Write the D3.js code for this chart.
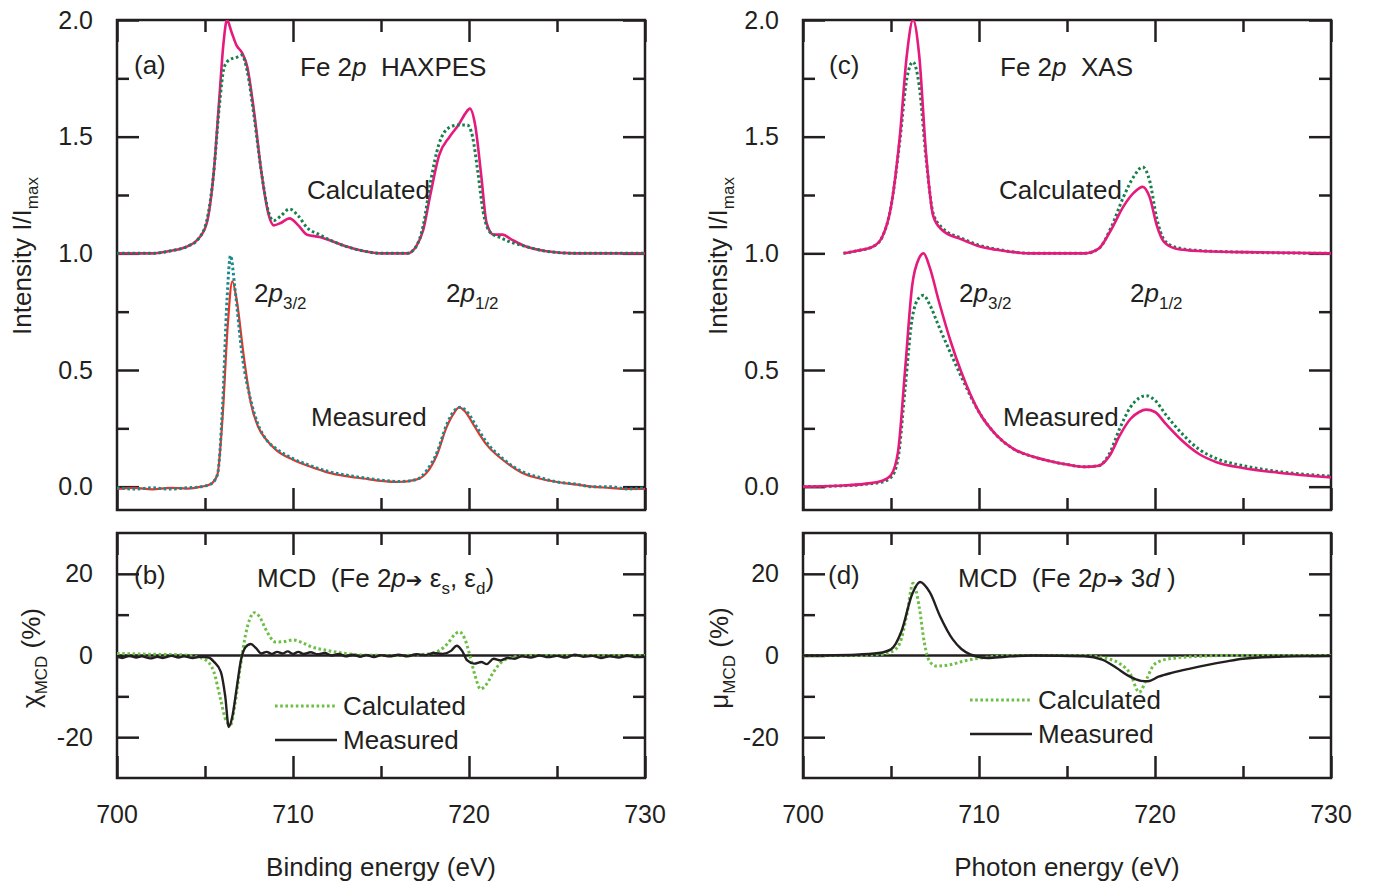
<!DOCTYPE html>
<html>
<head>
<meta charset="utf-8">
<script src="https://cdn.jsdelivr.net/npm/d3@7"></script>
<style>
  body { margin: 0; background: #fff; }
  text { font-family: "Liberation Sans", Arial, sans-serif; fill: #231f20; white-space: pre; }
</style>
</head>
<body>
<div class="canvas"></div>
<script>
// ---- data: [energy (eV), value] ----
const xTicks = [700, 710, 720, 730];
const xMinor = [705, 715, 725];
const yTicksTop = [0, 0.5, 1.0, 1.5, 2.0];
const yMinorTop = [0.25, 0.75, 1.25, 1.75];
const yTicksMcd = [-20, 0, 20];
const yMinorMcd = [-10, 10];

// (a) HAXPES, calculated (offset +1)
const haxCalcPink = [[700,1.0],[702,1.0],[703,1.01],[704,1.03],[704.6,1.06],[705.1,1.13],[705.5,1.35],[705.8,1.65],[706.05,1.9],[706.25,2.0],[706.5,1.95],[706.8,1.89],[707.1,1.86],[707.4,1.8],[707.8,1.6],[708.2,1.35],[708.6,1.17],[708.9,1.12],[709.3,1.13],[709.8,1.15],[710.3,1.12],[710.8,1.08],[711.5,1.07],[712.3,1.05],[713,1.03],[714,1.01],[715,1.0],[716.5,1.0],[717,1.03],[717.4,1.1],[717.8,1.25],[718.3,1.42],[718.9,1.5],[719.4,1.55],[719.8,1.6],[720.05,1.62],[720.35,1.55],[720.7,1.33],[721.0,1.13],[721.4,1.08],[721.9,1.08],[722.4,1.06],[723.2,1.03],[724.3,1.01],[726,1.0],[730,1.0]];
const haxCalcGreen = [[700,1.0],[702,1.0],[703,1.01],[704,1.03],[704.6,1.06],[705.1,1.14],[705.5,1.35],[705.8,1.62],[706.1,1.8],[706.4,1.83],[706.8,1.84],[707.1,1.85],[707.4,1.78],[707.8,1.58],[708.2,1.35],[708.6,1.18],[708.9,1.14],[709.3,1.16],[709.8,1.19],[710.3,1.16],[710.8,1.11],[711.5,1.08],[712.3,1.05],[713,1.03],[714,1.01],[715,1.0],[716.5,1.0],[717,1.03],[717.4,1.12],[717.8,1.3],[718.3,1.47],[718.9,1.54],[719.4,1.55],[719.9,1.55],[720.2,1.5],[720.5,1.35],[720.8,1.18],[721.2,1.09],[721.7,1.07],[722.3,1.05],[723.2,1.03],[724.3,1.01],[726,1.0],[730,1.0]];
// (a) HAXPES, measured
const haxMeasRed = [[700,-0.01],[701,-0.005],[702,-0.012],[703,-0.005],[704,-0.008],[704.8,0.0],[705.3,0.01],[705.7,0.05],[706.0,0.3],[706.3,0.7],[706.55,0.88],[706.8,0.8],[707.2,0.56],[707.6,0.36],[708,0.26],[708.5,0.2],[709,0.16],[710,0.115],[711,0.085],[712,0.06],[713,0.045],[714,0.035],[715,0.025],[716,0.02],[717,0.03],[717.6,0.06],[718.2,0.14],[718.7,0.25],[719.1,0.31],[719.45,0.34],[719.8,0.32],[720.3,0.26],[721,0.18],[722,0.11],[723,0.06],[724,0.035],[725,0.02],[726,0.01],[727,0.0],[728,-0.005],[729,-0.01],[730,-0.01]];
const haxMeasTeal = [[700,-0.005],[701,-0.01],[702,-0.005],[703,-0.01],[704,-0.005],[704.8,0.0],[705.3,0.01],[705.7,0.05],[706.0,0.35],[706.25,0.8],[706.45,0.99],[706.7,0.85],[707.1,0.57],[707.6,0.37],[708,0.27],[708.5,0.2],[709,0.165],[710,0.12],[711,0.09],[712,0.065],[713,0.05],[714,0.038],[715,0.028],[716,0.022],[717,0.03],[717.6,0.07],[718.2,0.15],[718.7,0.26],[719.1,0.32],[719.5,0.34],[719.9,0.32],[720.4,0.26],[721,0.19],[722,0.115],[723,0.065],[724,0.04],[725,0.02],[726,0.012],[727,0.0],[728,0.0],[729,-0.01],[730,-0.005]];

// (b) chi MCD
const chiCalc = [[700,0.5],[702,0.3],[703.5,0.2],[704.5,-0.3],[705,-1],[705.5,-4],[705.9,-11],[706.2,-16],[706.45,-17],[706.7,-12],[707,-3],[707.3,5],[707.55,9],[707.8,10.5],[708.1,9.5],[708.5,6],[709,3.3],[709.5,3.4],[710,3.8],[710.5,3.2],[711,2.2],[712,1.2],[713,0.5],[714,0.1],[716,0],[717.5,0.3],[718.3,1.2],[718.8,3],[719.2,5.2],[719.45,5.8],[719.75,4.2],[720.05,0],[720.35,-5],[720.65,-8.2],[721,-7],[721.4,-4],[721.8,-1.8],[722.4,-0.5],[723.5,0],[730,0]];
const chiMeas = [[700,-0.3],[700.3,-0.6],[700.7,-0.1],[701.1,-0.5],[701.4,-0.2],[701.9,-0.7],[702.3,-0.3],[702.6,-0.6],[703.1,-0.1],[703.5,-0.5],[703.8,-0.2],[704.3,-0.6],[704.7,-0.3],[705.2,-0.5],[705.5,-1.5],[705.9,-4],[706.15,-10],[706.35,-17.5],[706.55,-15],[706.8,-8],[707.05,-1],[707.3,2],[707.6,2.8],[707.9,1.8],[708.2,0.5],[708.5,0.9],[708.8,0.4],[709.1,0.9],[709.4,0.5],[709.7,1.0],[710,0.4],[710.3,0.9],[710.6,0.4],[711,0.8],[711.4,0.3],[711.8,0.6],[712.2,0],[712.6,0.4],[713,-0.2],[713.4,0.2],[713.8,-0.3],[714.2,0.1],[714.6,-0.4],[715,0.1],[715.5,-0.2],[716,0.2],[716.5,-0.2],[717,0.3],[717.5,0.1],[718,0.6],[718.5,0.4],[719,1.2],[719.3,2.4],[719.6,1.2],[719.9,-1.2],[720.3,-2],[720.7,-1.6],[721,-2.1],[721.4,-0.8],[721.8,-1.2],[722.2,-0.6],[722.6,-0.8],[723,-0.2],[723.5,-0.5],[724,0],[724.5,-0.4],[725,-0.1],[725.5,-0.5],[726,0.2],[726.5,-0.3],[727,-0.1],[727.5,-0.6],[728,-0.2],[728.5,-0.5],[729,0],[729.5,-0.4],[730,-0.3]];

// (c) XAS, calculated (offset +1)
const xasCalcPink = [[702.3,1.0],[703,1.01],[704,1.03],[704.5,1.07],[705,1.2],[705.5,1.5],[705.9,1.85],[706.25,2.0],[706.6,1.85],[707,1.42],[707.4,1.16],[707.9,1.1],[709,1.06],[710,1.03],[711,1.015],[713,1.0],[716,1.0],[716.8,1.02],[717.5,1.1],[718.2,1.2],[718.8,1.26],[719.3,1.285],[719.7,1.24],[720.1,1.12],[720.5,1.05],[721.2,1.02],[722.5,1.01],[725,1.005],[730,1.0]];
const xasCalcGreen = [[702.3,1.0],[703,1.01],[704,1.03],[704.5,1.07],[705,1.2],[705.5,1.48],[705.9,1.75],[706.25,1.82],[706.6,1.72],[707,1.4],[707.4,1.17],[707.9,1.11],[709,1.065],[710,1.035],[711,1.018],[713,1.0],[716,1.0],[716.8,1.02],[717.5,1.11],[718.2,1.24],[718.8,1.33],[719.3,1.37],[719.7,1.31],[720.1,1.15],[720.5,1.06],[721.2,1.025],[722.5,1.012],[725,1.005],[730,1.0]];
// (c) XAS, measured
const xasMeasPink = [[700,0.0],[702,0.004],[703.5,0.012],[704.5,0.025],[705,0.05],[705.4,0.15],[705.8,0.5],[706.2,0.86],[706.6,0.98],[706.85,1.0],[707.2,0.94],[707.7,0.8],[708.4,0.62],[709,0.49],[710,0.32],[711,0.22],[712,0.16],[713,0.13],[714,0.11],[715,0.095],[716,0.085],[716.8,0.09],[717.4,0.13],[718,0.22],[718.6,0.29],[719.1,0.32],[719.5,0.33],[720,0.32],[720.6,0.27],[721.5,0.2],[722.5,0.14],[723.5,0.105],[725,0.08],[727,0.06],[730,0.04]];
const xasMeasGreen = [[700,0.0],[702,0.003],[703.5,0.01],[704.5,0.02],[705,0.04],[705.4,0.12],[705.8,0.42],[706.2,0.72],[706.6,0.81],[706.85,0.82],[707.2,0.78],[707.7,0.69],[708.4,0.57],[709,0.47],[710,0.32],[711,0.22],[712,0.16],[713,0.13],[714,0.11],[715,0.095],[716,0.085],[716.8,0.09],[717.4,0.14],[718,0.25],[718.6,0.34],[719.1,0.38],[719.5,0.39],[720,0.37],[720.6,0.31],[721.5,0.23],[722.5,0.16],[723.5,0.12],[725,0.09],[727,0.065],[730,0.045]];

// (d) mu MCD
const muCalc = [[700,0],[703,0],[704.5,0.3],[705,0.8],[705.5,3],[705.9,10],[706.25,17.7],[706.6,12],[706.9,3],[707.2,-1.5],[707.6,-2.6],[708.3,-2.3],[709.2,-1.3],[710.3,-0.5],[712,0],[716,0],[717,-0.5],[718,-2],[718.6,-4.5],[719.1,-9],[719.5,-6],[719.9,-2.5],[720.4,-1.2],[721.2,-0.6],[722.5,-0.2],[724,0],[730,0]];
const muMeas = [[700,0],[703,0.2],[704.3,0.6],[705,1.5],[705.6,6],[706.2,15],[706.65,18],[707.2,15.5],[707.8,9.5],[708.5,4],[709,1.6],[709.5,0.3],[710.5,-0.6],[711.5,-0.3],[713,0],[716,-0.2],[717,-1],[717.8,-3],[718.5,-5],[719.2,-6.2],[719.6,-6.3],[720.2,-5.2],[721,-4.2],[722,-3.2],[723,-2.3],[724,-1.5],[725,-0.8],[727,-0.3],[730,-0.1]];

// ---- layout ----
const svg = d3.select('.canvas').append('svg')
  .attr('width', 1373)
  .attr('height', 883);

const colLeft = [117, 803];
const colWidth = 528;
const topBox = {top: 20, bottom: 510};
const mcdBox = {top: 533, bottom: 778};
const FS = 26;      // annotation font size
const TICK_FS = 25; // tick label font size
const SUB_FS = 17;

const pink = '#e6197d', darkGreen = '#17804a', red = '#ef3124', teal = '#1a8a8e', lightGreen = '#6cbf44', black = '#231f20';
const noLabel = () => '';

function makePanel(col, box, yDomain, yMajor, yMinor, idx, fmt) {
  const x = d3.scaleLinear().domain([700, 730]).range([colLeft[col], colLeft[col] + colWidth]);
  const y = d3.scaleLinear().domain(yDomain).range([box.bottom, box.top]);
  const g = svg.append('g');
  const h = box.bottom - box.top;
  const id = `clip-${col}-${idx}`;

  svg.append('clipPath').attr('id', id)
    .append('rect')
      .attr('x', x.range()[0]).attr('y', box.top)
      .attr('width', colWidth).attr('height', h);

  // ticks, all inward, mirrored on all four sides
  const addAxis = (axis, transform) => {
    const a = g.append('g').attr('transform', transform).call(axis);
    a.select('.domain').remove();
    a.selectAll('line').attr('stroke', black).attr('stroke-width', 2.5);
    return a;
  };
  addAxis(d3.axisBottom(x).tickValues(xTicks).tickSize(-22).tickFormat(noLabel), `translate(0,${box.bottom})`);
  addAxis(d3.axisBottom(x).tickValues(xMinor).tickSize(-12).tickFormat(noLabel), `translate(0,${box.bottom})`);
  addAxis(d3.axisTop(x).tickValues(xTicks).tickSize(-22).tickFormat(noLabel), `translate(0,${box.top})`);
  addAxis(d3.axisTop(x).tickValues(xMinor).tickSize(-12).tickFormat(noLabel), `translate(0,${box.top})`);
  const yl = addAxis(d3.axisLeft(y).tickValues(yMajor).tickSize(-22).tickPadding(24).tickFormat(fmt),
    `translate(${x.range()[0]},0)`);
  yl.selectAll('text').attr('font-size', TICK_FS).attr('fill', black)
    .style('font-family', '"Liberation Sans", Arial, sans-serif');
  addAxis(d3.axisLeft(y).tickValues(yMinor).tickSize(-12).tickFormat(noLabel), `translate(${x.range()[0]},0)`);
  addAxis(d3.axisRight(y).tickValues(yMajor).tickSize(-22).tickFormat(noLabel), `translate(${x.range()[1]},0)`);
  addAxis(d3.axisRight(y).tickValues(yMinor).tickSize(-12).tickFormat(noLabel), `translate(${x.range()[1]},0)`);

  g.append('rect')
    .attr('x', x.range()[0]).attr('y', box.top)
    .attr('width', colWidth).attr('height', h)
    .attr('fill', 'none').attr('stroke', black).attr('stroke-width', 2.5);

  return {x, y, g, clip: `url(#${id})`};
}

function drawLine(p, data, color, dotted, width) {
  const line = d3.line()
    .curve(d3.curveMonotoneX)
    .x(d => p.x(d[0]))
    .y(d => p.y(d[1]));
  p.g.append('path')
    .attr('clip-path', p.clip)
    .attr('fill', 'none')
    .attr('stroke', color)
    .attr('stroke-width', width || (dotted ? 3 : 2.6))
    .attr('stroke-dasharray', dotted ? '2.6,2.6' : null)
    .attr('stroke-linejoin', 'round')
    .attr('d', line(data));
}

function label(x, y, parts, size) {
  const t = svg.append('text').attr('x', x).attr('y', y).attr('font-size', size || FS);
  parts.forEach(pt => {
    const s = t.append('tspan').text(pt.t);
    if (pt.i) s.attr('font-style', 'italic');
    if (pt.sub) s.attr('font-size', SUB_FS).attr('dy', 7);
    if (pt.up) s.attr('dy', -7);
    if (pt.fs) s.attr('font-size', pt.fs);
    if (pt.font) s.style('font-family', pt.font);
  });
  return t;
}

// ---- panels ----
const pa = makePanel(0, topBox, [-0.1, 2.0], yTicksTop, yMinorTop, 0, d3.format('.1f'));
const pb = makePanel(0, mcdBox, [-30, 30], yTicksMcd, yMinorMcd, 1, d => String(d));
const pc = makePanel(1, topBox, [-0.1, 2.0], yTicksTop, yMinorTop, 0, d3.format('.1f'));
const pd = makePanel(1, mcdBox, [-30, 30], yTicksMcd, yMinorMcd, 1, d => String(d));

// zero lines in MCD panels
[pb, pd].forEach(p => {
  p.g.append('line')
    .attr('x1', p.x(700)).attr('x2', p.x(730))
    .attr('y1', p.y(0)).attr('y2', p.y(0))
    .attr('stroke', black).attr('stroke-width', 2.5);
});

drawLine(pa, haxCalcPink, pink, false);
drawLine(pa, haxCalcGreen, darkGreen, true);
drawLine(pa, haxMeasRed, red, false, 2.2);
drawLine(pa, haxMeasTeal, teal, true);

drawLine(pb, chiCalc, lightGreen, true);
drawLine(pb, chiMeas, black, false, 2.4);

drawLine(pc, xasCalcGreen, darkGreen, true);
drawLine(pc, xasCalcPink, pink, false);
drawLine(pc, xasMeasGreen, darkGreen, true);
drawLine(pc, xasMeasPink, pink, false);

drawLine(pd, muCalc, lightGreen, true);
drawLine(pd, muMeas, black, false, 2.4);

// x tick labels under the MCD panels
[pb, pd].forEach(p => {
  xTicks.forEach(v => {
    svg.append('text').attr('x', p.x(v)).attr('y', 823)
      .attr('text-anchor', 'middle').attr('font-size', TICK_FS).text(v);
  });
});

// axis titles
svg.append('text').attr('x', 381).attr('y', 876).attr('text-anchor', 'middle')
  .attr('font-size', FS).text('Binding energy (eV)');
svg.append('text').attr('x', 1067).attr('y', 876).attr('text-anchor', 'middle')
  .attr('font-size', FS).text('Photon energy (eV)');

function yTitle(x, y, parts) {
  const t = svg.append('text')
    .attr('transform', `translate(${x},${y}) rotate(-90)`)
    .attr('text-anchor', 'middle').attr('font-size', FS);
  parts.forEach(pt => {
    const s = t.append('tspan').text(pt.t);
    if (pt.sub) s.attr('font-size', SUB_FS).attr('dy', 7);
    if (pt.up) s.attr('dy', -7);
  });
}
yTitle(31, 256, [{t: 'Intensity I/I'}, {t: 'max', sub: true}]);
yTitle(727, 256, [{t: 'Intensity I/I'}, {t: 'max', sub: true}]);
yTitle(40, 658, [{t: 'χ'}, {t: 'MCD', sub: true}, {t: ' (%)', up: true}]);
yTitle(728, 658, [{t: 'μ'}, {t: 'MCD', sub: true}, {t: ' (%)', up: true}]);

// panel annotations
const arrowFont = '"DejaVu Sans", sans-serif';
label(134, 74, [{t: '(a)'}]);
label(300, 76, [{t: 'Fe 2'}, {t: 'p', i: true}, {t: '  HAXPES'}]);
label(307, 199, [{t: 'Calculated'}]);
label(254, 302, [{t: '2'}, {t: 'p', i: true}, {t: '3/2', sub: true}]);
label(446, 302, [{t: '2'}, {t: 'p', i: true}, {t: '1/2', sub: true}]);
label(311, 426, [{t: 'Measured'}]);

label(134, 584, [{t: '(b)'}]);
label(257, 587, [{t: 'MCD  (Fe 2'}, {t: 'p', i: true}, {t: '➔', fs: 20, font: arrowFont}, {t: ' ε'}, {t: 's', sub: true}, {t: ', ε', up: true}, {t: 'd', sub: true}, {t: ')', up: true}]);

label(829, 74, [{t: '(c)'}]);
label(1000, 76, [{t: 'Fe 2'}, {t: 'p', i: true}, {t: '  XAS'}]);
label(999, 199, [{t: 'Calculated'}]);
label(959, 302, [{t: '2'}, {t: 'p', i: true}, {t: '3/2', sub: true}]);
label(1130, 302, [{t: '2'}, {t: 'p', i: true}, {t: '1/2', sub: true}]);
label(1003, 426, [{t: 'Measured'}]);

label(828, 584, [{t: '(d)'}]);
label(958, 587, [{t: 'MCD  (Fe 2'}, {t: 'p', i: true}, {t: '➔', fs: 20, font: arrowFont}, {t: ' 3'}, {t: 'd', i: true}, {t: ' )'}]);

// legends in MCD panels
function legend(x0, yCalc, yMeas) {
  svg.append('line').attr('x1', x0).attr('x2', x0 + 62).attr('y1', yCalc).attr('y2', yCalc)
    .attr('stroke', lightGreen).attr('stroke-width', 3).attr('stroke-dasharray', '2.6,2.6');
  svg.append('line').attr('x1', x0).attr('x2', x0 + 62).attr('y1', yMeas).attr('y2', yMeas)
    .attr('stroke', black).attr('stroke-width', 2.5);
  label(x0 + 68, yCalc + 9, [{t: 'Calculated'}]);
  label(x0 + 68, yMeas + 9, [{t: 'Measured'}]);
}
legend(275, 706, 740);
legend(970, 700, 734);
</script>
</body>
</html>
